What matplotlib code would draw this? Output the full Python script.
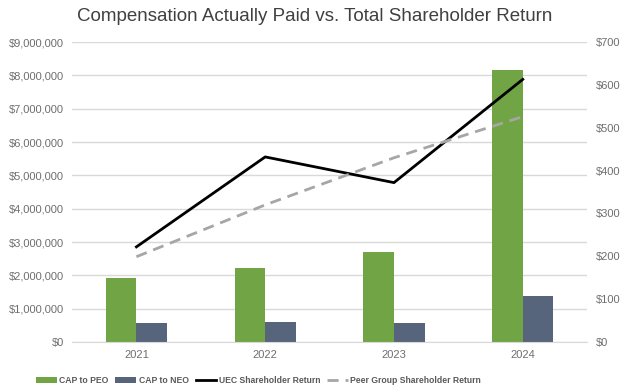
import numpy as np
import matplotlib.pyplot as plt
from matplotlib.ticker import FuncFormatter

# chart data
years = ['2021', '2022', '2023', '2024']
cap_peo = [1910000, 2210000, 2690000, 8160000]
cap_neo = [560000, 590000, 570000, 1370000]
uec_tsr = [222, 432, 372, 613]
peer_tsr = [199, 320, 430, 526]

green = '#70a444'
navy = '#56657c'
grey_txt = '#595959'

plt.rcParams['font.family'] = ['Liberation Sans', 'DejaVu Sans']

fig = plt.figure(figsize=(6.29, 3.92), dpi=100)
ax = fig.add_axes([0.1145, 0.1276, 0.819, 0.765])
ax2 = ax.twinx()

x = np.arange(len(years))
w = 0.237
ax.bar(x - w / 2, cap_peo, w, color=green, label='CAP to PEO', zorder=2)
ax.bar(x + w / 2, cap_neo, w, color=navy, label='CAP to NEO', zorder=2)

ax2.plot(x, uec_tsr, color='black', lw=2, label='UEC Shareholder Return')
ax2.plot(x, peer_tsr, color='#a6a6a6', lw=2, ls=(0, (4, 2.5)),
         label='Peer Group Shareholder Return')

ax.set_xlim(-0.5, 3.5)
ax.set_ylim(0, 9000000)
ax.set_yticks(np.arange(0, 9000001, 1000000))
ax.yaxis.set_major_formatter(FuncFormatter(lambda v, p: f'${v:,.0f}'))
ax2.set_ylim(0, 700)
ax2.set_yticks(np.arange(0, 701, 100))
ax2.yaxis.set_major_formatter(FuncFormatter(lambda v, p: f'${v:,.0f}'))

ax.set_xticks(x)
ax.set_xticklabels(years)
ax.grid(axis='y', color='#d9d9d9', lw=1, zorder=0)
ax.set_axisbelow(True)

for a in (ax, ax2):
    for s in a.spines.values():
        s.set_visible(False)
    a.tick_params(length=0, labelsize=8, colors='#6e6e6e', pad=6)
ax.tick_params(axis='x', pad=6)
ax.spines['bottom'].set_visible(True)
ax.spines['bottom'].set_color('#d9d9d9')

fig.suptitle('Compensation Actually Paid vs. Total Shareholder Return',
             x=0.5, y=0.98, fontsize=13.5, color='#404040')

h1, l1 = ax.get_legend_handles_labels()
h2, l2 = ax2.get_legend_handles_labels()
leg = fig.legend(h1 + h2, l1 + l2, loc='center', bbox_to_anchor=(0.411, 0.03),
                 ncol=4, frameon=False, handlelength=2.4,
                 columnspacing=0.8, handletextpad=0.3,
                 prop={'weight': 'bold', 'size': 6.2})
for t in leg.get_texts():
    t.set_color(grey_txt)

fig.savefig('out.png', dpi=100)
